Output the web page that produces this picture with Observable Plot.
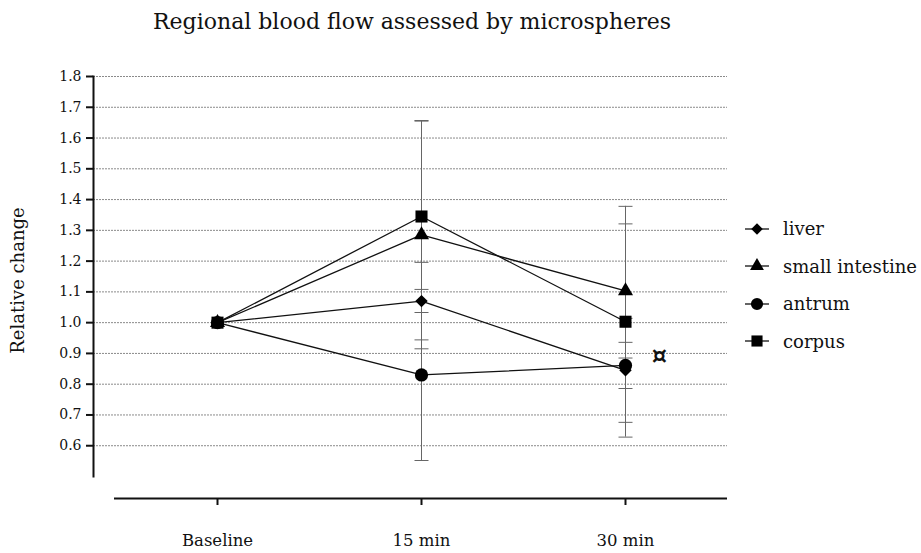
<!DOCTYPE html>
<html>
<head>
<meta charset="utf-8">
<script src="https://cdn.jsdelivr.net/npm/d3@7"></script>
<script src="https://cdn.jsdelivr.net/npm/@observablehq/plot@0.6"></script>
<style>
  body { margin: 0; background: white; }
  #wrap { position: relative; width: 921px; height: 553px; font-family: 'DejaVu Serif', serif; color: #111; }
  #wrap text, #wrap span, #wrap div { font-family: 'DejaVu Serif', serif !important; }
  #title { position: absolute; left: 0; width: 824px; top: 9px; text-align: center; font-size: 22px; }
  #legend { position: absolute; left: 745px; top: 210px; font-size: 18px; }
  .row { display: flex; align-items: center; height: 37.5px; }
  .row svg { margin-right: 12px; }
</style>
</head>
<body>
<div id="wrap">
  <div id="title">Regional blood flow assessed by microspheres</div>
  <div id="legend"></div>
</div>
<script>
const timepoints = ["Baseline", "15 min", "30 min"];
const series = ["liver", "small intestine", "antrum", "corpus"];
const symbols = ["diamond2", "triangle", "circle", "square"];
const liver = [1.00, 1.07, 0.845];
const liverErr = [null, 0.126, 0.169];
const smallIntestine = [1.00, 1.285, 1.103];
const smallIntestineErr = [null, 0.370, 0.218];
const antrum = [1.00, 0.830, 0.861];
const antrumErr = [null, 0.278, 0.075];
const corpus = [1.00, 1.345, 1.003];
const corpusErr = [null, 0.312, 0.375];
const yTicks = [0.6, 0.7, 0.8, 0.9, 1.0, 1.1, 1.2, 1.3, 1.4, 1.5, 1.6, 1.7, 1.8];
const note = [{time: "30 min", value: 0.892, label: "¤"}];

const values = [liver, smallIntestine, antrum, corpus];
const errs = [liverErr, smallIntestineErr, antrumErr, corpusErr];
const data = [];
series.forEach((s, i) => timepoints.forEach((t, j) => {
  const e = errs[i][j];
  data.push({series: s, time: t, value: values[i][j],
    lo: e == null ? null : values[i][j] - e, hi: e == null ? null : values[i][j] + e});
}));
const errData = data.filter(d => d.lo != null);
const sizes = {"liver": 5.6, "small intestine": 5.6, "antrum": 6.6, "corpus": 6.8};

// horizontal cap symbol for error bars
const capSymbol = {draw(context, size) { const w = Math.sqrt(size); context.moveTo(-w, 0); context.lineTo(w, 0); }};
const capR = Math.sqrt(49 / Math.PI);

const marks = [
  Plot.gridY(yTicks, {stroke: "#8a8a8a", strokeOpacity: 1, strokeDasharray: "2,1"}),
  Plot.axisY(yTicks, {tickSize: 7, tickPadding: 5, tickFormat: d => d.toFixed(1), fontSize: 14, label: null, strokeWidth: 2}),
  Plot.frame({anchor: "left", strokeWidth: 2}),
  Plot.text(["Relative change"], {frameAnchor: "left", dx: -75, dy: 4, rotate: -90, textAnchor: "middle", fontSize: 18}),
  Plot.ruleY([0.5], {dy: 22, insetLeft: 21, strokeWidth: 2}),
  Plot.axisX({tickSize: 7, dy: 22, tickPadding: 29, fontSize: 16.5, label: null, strokeWidth: 2}),
  Plot.ruleX(errData, {x: "time", y1: "lo", y2: "hi", stroke: "#666", strokeWidth: 1}),
  Plot.dot(errData, {x: "time", y: "lo", symbol: capSymbol, r: capR, stroke: "#666", fill: "none", strokeWidth: 1}),
  Plot.dot(errData, {x: "time", y: "hi", symbol: capSymbol, r: capR, stroke: "#666", fill: "none", strokeWidth: 1}),
  Plot.line(data, {x: "time", y: "value", z: "series", stroke: "#111", strokeWidth: 1.3}),
  ...series.map((s, i) => Plot.dot(data.filter(d => d.series === s), {x: "time", y: "value", symbol: symbols[i], r: sizes[s], fill: "#000", stroke: "none"})),
  Plot.text(note, {x: "time", y: "value", text: "label", dx: 34, fontSize: 24, fontWeight: "bold"})
];

const chart = Plot.plot({
  width: 921, height: 553,
  marginTop: 76, marginBottom: 77, marginLeft: 93, marginRight: 194,
  style: "font-family: 'DejaVu Serif', serif; font-size: 16px; color: #111; background: transparent;",
  x: {type: "point", domain: timepoints, padding: 0.5, insetLeft: 21},
  y: {domain: [0.5, 1.8]},
  marks
});
const wrap = document.getElementById("wrap");
chart.style.position = "absolute";
chart.style.left = "0";
chart.style.top = "0";
wrap.insertBefore(chart, wrap.firstChild);

const legend = d3.select("#legend");
const symMap = {diamond2: d3.symbolDiamond2, triangle: d3.symbolTriangle, circle: d3.symbolCircle, square: d3.symbolSquare};
series.forEach((s, i) => {
  const row = legend.append("div").attr("class", "row");
  const svg = row.append("svg").attr("width", 26).attr("height", 16);
  svg.append("line").attr("x1", 0).attr("x2", 24).attr("y1", 8).attr("y2", 8).attr("stroke", "#111").attr("stroke-width", 1.3);
  const r = sizes[s];
  svg.append("path").attr("transform", "translate(12,8)").attr("d", d3.symbol(symMap[symbols[i]], Math.PI * r * r * 0.85)()).attr("fill", "#000");
  row.append("span").text(s);
});
</script>
</body>
</html>
